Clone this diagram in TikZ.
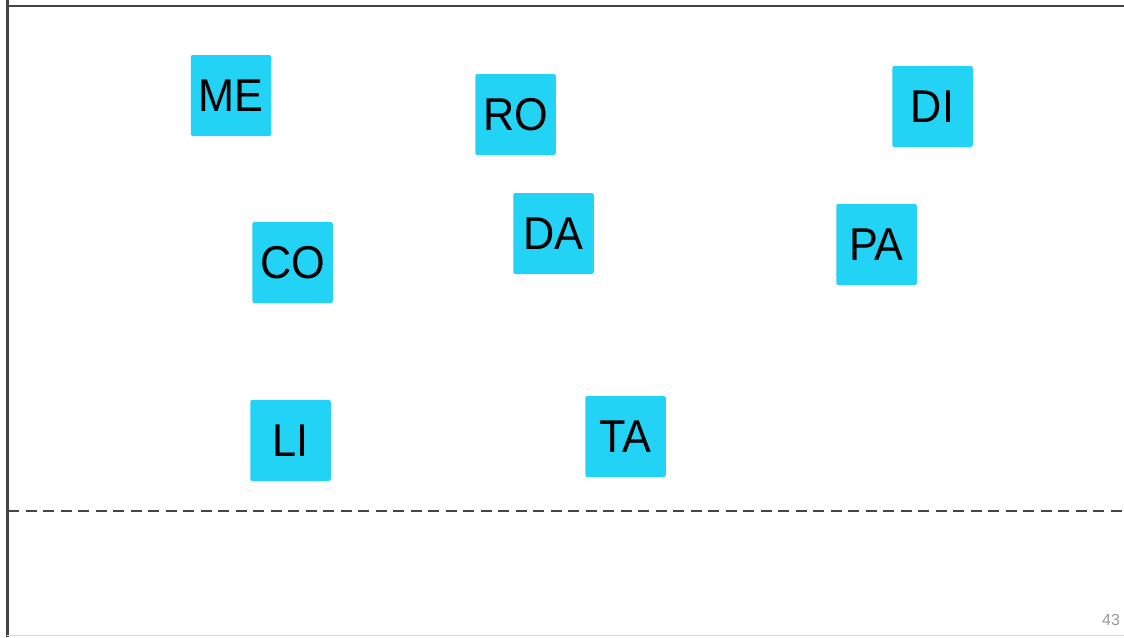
\documentclass[tikz,border=0pt]{standalone}
\usepackage{fontspec}
\setmainfont{Liberation Sans}
\newfontfamily\cardfont{Liberation Sans}[FakeStretch=0.94]
\definecolor{boxcyan}{HTML}{22D3F5}
\definecolor{framegray}{HTML}{444444}
\begin{document}
\begin{tikzpicture}[x=1pt,y=-1pt,
  card/.style={fill=boxcyan, rounded corners=2pt, minimum width=80.5pt, minimum height=81pt, inner sep=0pt, font=\cardfont\fontsize{46}{46}\selectfont, text=black, text depth=0pt, yshift=0pt},
  frame/.style={draw=framegray, line width=2.5pt}]
\useasboundingbox (0,0) rectangle (1124,637);
\fill[white] (0,0) rectangle (1124,637);
\draw[frame] (7.5,0) -- (7.5,637);
\draw[frame] (6,6) -- (1124,6);
\draw[gray!30, line width=1pt] (7,635.5) -- (1124,635.5);
\node[card] (ME) at (231,95.5) {ME};
\node[card] (RO) at (515.5,114.5) {RO};
\node[card] (DI) at (932.5,106.5) {DI};
\node[card] (CO) at (292.5,262.5) {CO};
\node[card] (DA) at (553.5,233.5) {DA};
\node[card] (PA) at (876.5,244.5) {PA};
\node[card] (LI) at (290.5,440.5) {LI};
\node[card] (TA) at (625.5,436.5) {TA};
\coordinate (dl) at (8,511);
\coordinate (dr) at (1124,511);
\draw[framegray, line width=2.2pt, dash pattern=on 11pt off 6.5pt] (dl) -- (dr);
\node[text=gray!80, font=\fontsize{16}{16}\selectfont] (pg) at (1111,620) {43};
\end{tikzpicture}
\end{document}
